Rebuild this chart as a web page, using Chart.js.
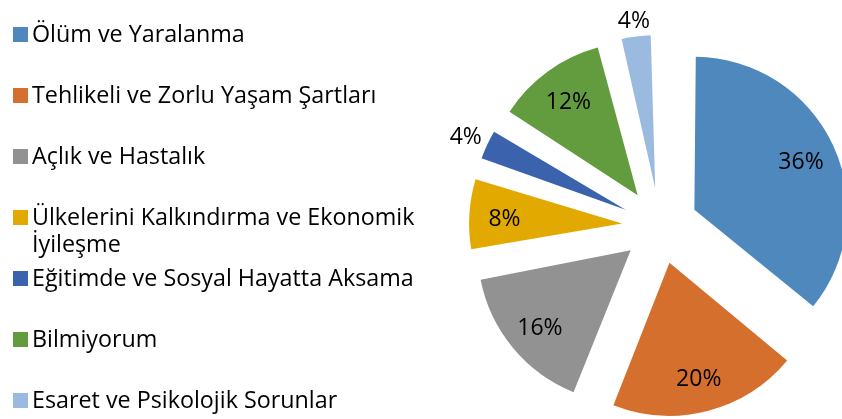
<!DOCTYPE html>
<html>
<head>
<meta charset="utf-8">
<script src="https://cdn.jsdelivr.net/npm/chart.js@4"></script>
<style>
  body { margin: 0; background: #fff; }
  #wrap { position: relative; width: 842px; height: 419px; }
  #pie { position: absolute; left: 0; top: 0; }
  #legend { position: absolute; left: 13px; top: 19.6px; font-family: "Open Sans", sans-serif; font-size: 23.3px; color: #000; }
  #legend .item { height: 61px; display: flex; align-items: flex-start; white-space: nowrap; line-height: 27px; }
  #legend .box { width: 15px; height: 15px; margin: 7.2px 4px 0 0; flex: none; }
</style>
</head>
<body>
<div id="wrap">
  <canvas id="pie" width="842" height="419"></canvas>
  <div id="legend"></div>
</div>
<script>
document.addEventListener('DOMContentLoaded', function () {
    const categories = [
        'Ölüm ve Yaralanma',
        'Tehlikeli ve Zorlu Yaşam Şartları',
        'Açlık ve Hastalık',
        ['Ülkelerini Kalkındırma ve Ekonomik', 'İyileşme'],
        'Eğitimde ve Sosyal Hayatta Aksama',
        'Bilmiyorum',
        'Esaret ve Psikolojik Sorunlar'
    ];
    const percentages = [36, 20, 16, 8, 4, 12, 4];
    const sliceColors = ['#4F88BD', '#D56F2D', '#929292', '#E2AA00', '#3B63AD', '#639B3F', '#9ABADF'];

    const explode = 38;   // px every slice is pulled out

    // legend on the left, built from the same arrays
    const legend = document.getElementById('legend');
    categories.forEach(function (cat, i) {
        const item = document.createElement('div');
        item.className = 'item';
        const box = document.createElement('span');
        box.className = 'box';
        box.style.background = sliceColors[i];
        const txt = document.createElement('span');
        txt.innerHTML = (Array.isArray(cat) ? cat : [cat]).join('<br>');
        item.appendChild(box);
        item.appendChild(txt);
        legend.appendChild(item);
    });

    // Chart.js shifts an arc by offset/4 but also grows its radius by
    // offset/4 * (1 - sin(circumference)); shrink each arc back so all slices
    // keep the same radius like the Excel exploded pie
    const equalRadius = {
        id: 'equalRadius',
        beforeDatasetsDraw(chart) {
            const meta = chart.getDatasetMeta(0);
            const base = meta.controller.outerRadius;
            meta.data.forEach(function (arc) {
                const fix = 1 - Math.sin(Math.min(Math.PI, arc.circumference));
                arc.outerRadius = base - explode * fix;
            });
        }
    };

    // percentage labels: inside for big slices, outside end for small ones
    const pctLabels = {
        id: 'pctLabels',
        afterDatasetsDraw(chart) {
            const ctx = chart.ctx;
            const meta = chart.getDatasetMeta(0);
            const r = meta.controller.outerRadius;
            ctx.save();
            ctx.font = '23px "Open Sans", sans-serif';
            ctx.fillStyle = '#000';
            ctx.textAlign = 'center';
            ctx.textBaseline = 'middle';
            meta.data.forEach(function (arc, i) {
                const text = percentages[i] + '%';
                const mid = (arc.startAngle + arc.endAngle) / 2;
                const cx = Math.cos(mid), cy = Math.sin(mid);
                let dist;
                if (percentages[i] < 5) {
                    const hw = ctx.measureText(text).width / 2;
                    dist = explode + r + 4 + hw * Math.abs(cx) + 12 * Math.abs(cy);
                } else {
                    dist = explode + r * 0.77;
                }
                ctx.fillText(text, arc.x + cx * dist, arc.y + cy * dist + 3);
            });
            ctx.restore();
        }
    };

    new Chart(document.getElementById('pie'), {
        type: 'pie',
        data: {
            labels: categories,
            datasets: [{
                data: percentages,
                backgroundColor: sliceColors,
                borderWidth: 0,
                offset: explode * 4,
                clip: false
            }]
        },
        options: {
            responsive: false,
            animation: false,
            radius: 153,
            layout: {
                padding: { left: 478, right: 0, top: 33, bottom: 0 }
            },
            plugins: {
                legend: { display: false },
                tooltip: { enabled: false }
            }
        },
        plugins: [equalRadius, pctLabels]
    });
});
</script>
</body>
</html>
